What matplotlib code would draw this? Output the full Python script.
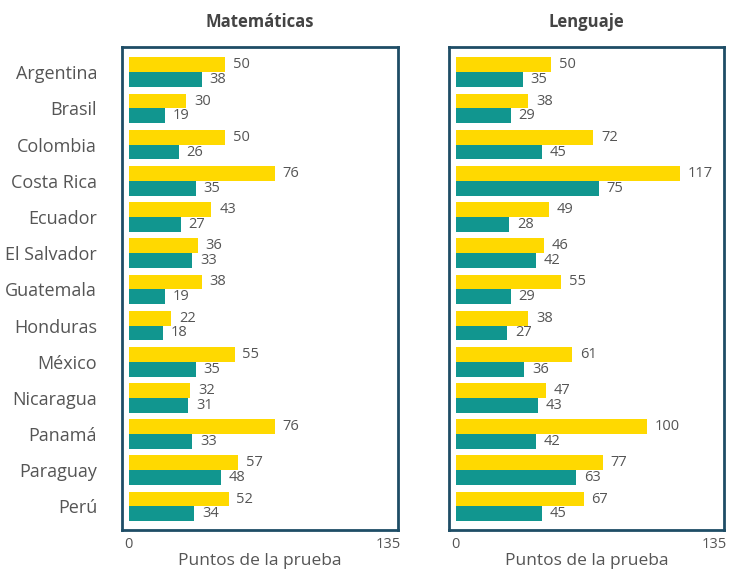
import matplotlib.pyplot as plt
import numpy as np

paises = ["Argentina", "Brasil", "Colombia", "Costa Rica", "Ecuador", "El Salvador",
          "Guatemala", "Honduras", "México", "Nicaragua", "Panamá", "Paraguay", "Perú"]

mat_amarillo = [50, 30, 50, 76, 43, 36, 38, 22, 55, 32, 76, 57, 52]
mat_verde = [38, 19, 26, 35, 27, 33, 19, 18, 35, 31, 33, 48, 34]
len_amarillo = [50, 38, 72, 117, 49, 46, 55, 38, 61, 47, 100, 77, 67]
len_verde = [35, 29, 45, 75, 28, 42, 29, 27, 36, 43, 42, 63, 45]

titulos = ["Matemáticas", "Lenguaje"]
ticks_x = [0, 135]

AMARILLO = "#FFD900"
VERDE = "#11968F"
MARCO = "#1E4D66"
GRIS = "#555555"

plt.rcParams['font.family'] = ['Open Sans', 'DejaVu Sans']

fig = plt.figure(figsize=(7.31, 5.71), dpi=100)
ax1 = fig.add_axes([0.167, 0.0718, 0.3775, 0.846])
ax2 = fig.add_axes([0.614, 0.0718, 0.376, 0.846])

y = np.arange(len(paises))
h = 0.41

for ax, titulo, amarillo, verde in [(ax1, titulos[0], mat_amarillo, mat_verde),
                                    (ax2, titulos[1], len_amarillo, len_verde)]:
    ax.barh(y - h / 2, amarillo, height=h, color=AMARILLO)
    ax.barh(y + h / 2, verde, height=h, color=VERDE)
    for yi, v in zip(y, amarillo):
        ax.text(v + 4, yi - h / 2, str(v), va='center', ha='left', fontsize=10.5, color=GRIS)
    for yi, v in zip(y, verde):
        ax.text(v + 4, yi + h / 2, str(v), va='center', ha='left', fontsize=10.5, color=GRIS)

    ax.set_xlim(-3.5, 140)
    ax.set_ylim(12.65, -0.7)
    ax.set_xticks(ticks_x)
    ax.set_xticklabels([str(t) for t in ticks_x], fontsize=10.5, color=GRIS)
    ax.tick_params(axis='x', length=0, pad=5)
    ax.set_xlabel("Puntos de la prueba", fontsize=12.5, color=GRIS, labelpad=1)
    ax.set_title(titulo, fontsize=12, fontweight='bold', color="#444444", pad=14)
    for s in ax.spines.values():
        s.set_color(MARCO)
        s.set_linewidth(2)

ax1.set_yticks(y)
ax1.set_yticklabels(paises, fontsize=13, color=GRIS)
ax1.tick_params(axis='y', length=0, pad=18)
ax2.set_yticks([])

fig.savefig("out.png", dpi=100)
